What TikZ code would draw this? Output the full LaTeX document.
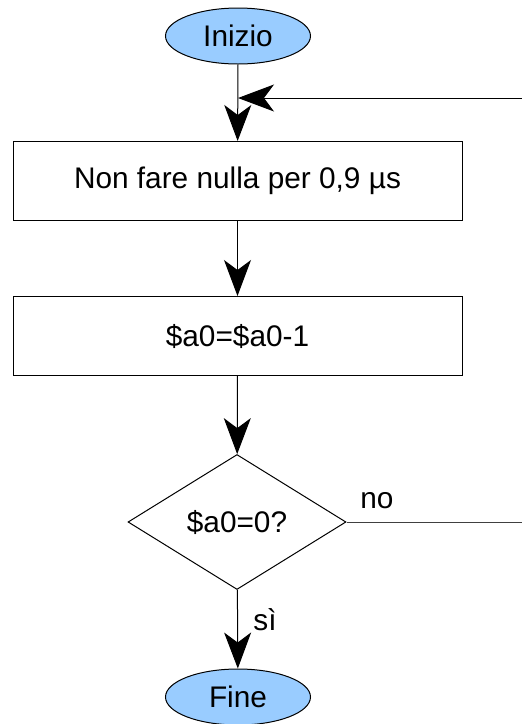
\documentclass[tikz,border=0pt]{standalone}
\usepackage{fontspec}
\setmainfont{Liberation Sans}
\usepackage{tikz}
\usetikzlibrary{shapes.geometric}
\usetikzlibrary{arrows.meta}
\definecolor{azzurro}{RGB}{153,204,255}
\tikzset{
    terminale/.style={ellipse, draw, fill=azzurro, line width=0.5pt,
        minimum width=72.5pt, minimum height=28pt, inner sep=0pt},
    blocco/.style={rectangle, draw, line width=0.5pt,
        minimum width=224.5pt, minimum height=39.5pt, inner sep=0pt},
    decisione/.style={diamond, draw, line width=0.5pt,
        minimum width=109pt, minimum height=67.5pt, inner sep=0pt},
    freccia/.style={line width=0.5pt, -{Stealth[length=18pt, width=13.5pt, inset=5pt]}},
    linea/.style={line width=0.5pt, draw=black!75}
}
\begin{document}
\begin{tikzpicture}[x=0.5pt, y=-0.5pt, font=\fontsize{14.9}{17}\selectfont]
    \useasboundingbox (0,0) rectangle (522,724);

    \node[terminale] (inizio) at (238,36) {Inizio};
    \node[blocco] (attesa) at (237.5,181) {Non fare nulla per 0,9 µs};
    \node[blocco] (decr) at (237.5,336) {\$a0=\$a0-1};
    \node[decisione] (test) at (237,522) {\$a0=0?};
    \node[terminale] (fine) at (238,697) {Fine};

    \coordinate (giunto) at (238,98);
    \coordinate (ritorno) at (522,98);
    \coordinate (uscita) at (522,522);

    \node (no) at (377,501) {no};
    \node (si) at (265,620) {sì};

    \draw[freccia] (inizio) -- (attesa);
    \draw[freccia] (attesa) -- (decr);
    \draw[freccia] (decr) -- (test);
    \draw[freccia] (test) -- (fine);
    \draw[linea] (test.east) -- (uscita);
    \draw[freccia] (ritorno) -- (giunto);
\end{tikzpicture}
\end{document}
